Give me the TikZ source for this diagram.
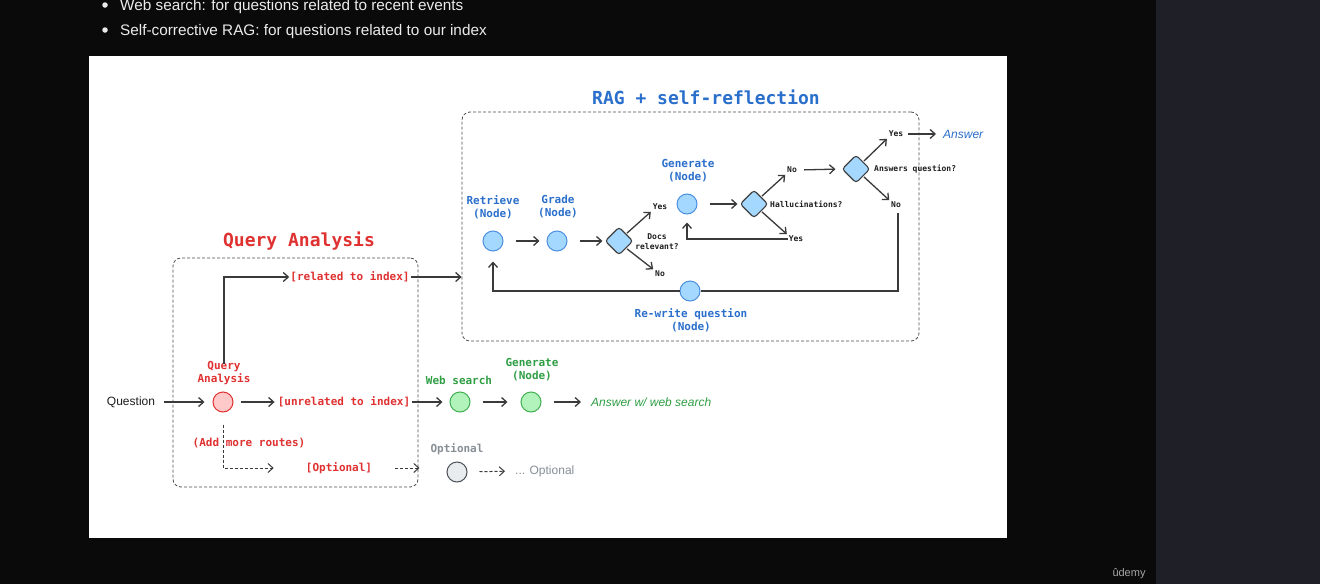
\documentclass[tikz,border=0pt]{standalone}
\usepackage{fontspec}
\setmainfont{Liberation Sans}
\setmonofont{DejaVu Sans Mono}
\usetikzlibrary{arrows.meta,shapes.geometric}
\definecolor{bgblack}{HTML}{0A0A0A}
\definecolor{sidegrey}{HTML}{1F1F28}
\definecolor{tred}{HTML}{E03131}
\definecolor{fred}{HTML}{FFC9C9}
\definecolor{tblue}{HTML}{2A6FCB}
\definecolor{sblue}{HTML}{4A8FE0}
\definecolor{fblue}{HTML}{A5D8FF}
\definecolor{tgreen}{HTML}{2F9E44}
\definecolor{sgreen}{HTML}{40B050}
\definecolor{fgreen}{HTML}{B2F2BB}
\definecolor{tgrey}{HTML}{868E96}
\definecolor{sgrey}{HTML}{495057}
\definecolor{fgrey}{HTML}{E9ECEF}
\definecolor{arrgrey}{HTML}{3A3A3A}
\definecolor{ink}{HTML}{1E1E1E}
\tikzset{
  monol/.style={font=\ttfamily\bfseries\fontsize{11}{13}\selectfont, align=center, inner sep=1pt},
  monos/.style={font=\ttfamily\bfseries\fontsize{8}{10}\selectfont, align=center, text=ink, inner sep=1pt},
  ttl/.style={font=\ttfamily\bfseries\fontsize{18}{20}\selectfont, inner sep=0pt},
  hand/.style={font=\fontsize{12}{14}\selectfont, inner sep=1pt},
  circ/.style={circle, minimum size=20pt, inner sep=0pt, line width=1pt},
  bnode/.style={circ, draw=sblue, fill=fblue},
  rnode/.style={circ, draw=tred, fill=fred},
  gnode/.style={circ, draw=sgreen, fill=fgreen},
  ynode/.style={circ, draw=sgrey, fill=fgrey},
  dia/.style={diamond, aspect=1, minimum width=28pt, minimum height=28pt, inner sep=0pt, draw=ink!85, fill=fblue, line width=1.1pt, rounded corners=3pt},
  arr/.style={draw=arrgrey, line width=1.3pt, -{Straight Barb[length=5pt,width=9pt]}},
  lin/.style={draw=arrgrey, line width=1.3pt},
  darr/.style={arr, line width=1pt, dash pattern=on 3pt off 2pt},
  dlin/.style={lin, dash pattern=on 3pt off 2pt},
  dbox/.style={draw=arrgrey!90, line width=0.8pt, dash pattern=on 3pt off 2pt, rounded corners=8pt, inner sep=0pt},
  bul/.style={circle, fill=white!92!black, minimum size=5.5pt, inner sep=0pt},
  topline/.style={text=white!92!black, font=\fontsize{15.3}{16}\selectfont, anchor=base west, inner sep=0pt},
}
\begin{document}
\begin{tikzpicture}[x=1pt, y=-1pt]
\useasboundingbox (0,0) rectangle (1320,584);
% background
\fill[bgblack] (0,0) rectangle (1320,584);
\fill[sidegrey] (1156,0) rectangle (1320,584);
\fill[white] (89,56) rectangle (1007,538);
% top bullets
\node[bul] (b1) at (105,5) {};
\node[topline] (t1) at (120,10) {Web search: for questions related to recent events};
\node[bul] (b2) at (105,30) {};
\node[topline] (t2) at (120,35) {Self-corrective RAG: for questions related to our index};
\node[text=white!65!black, font=\fontsize{11}{13}\selectfont, inner sep=0pt] (udemy) at (1129,574) {ûdemy};

% boxes and titles
\node[dbox, minimum width=245pt, minimum height=229pt] (qbox) at (295.5,372.5) {};
\node[dbox, minimum width=457pt, minimum height=229pt] (rag) at (690.5,226.5) {};
\node[ttl, text=tred] (qtitle) at (299,241) {Query Analysis};
\node[ttl, text=tblue] (rtitle) at (706,97) {RAG + self-reflection};

% query analysis part
\node[hand, text=ink] (q) at (131,402) {Question};
\node[rnode] (qa) at (223,402) {};
\node[monol, text=tred] (qal) at (224,373) {Query\\Analysis};
\node[monol, text=tred] (unrel) at (344,402) {[unrelated to index]};
\node[monol, text=tred] (rel) at (350,277) {[related to index]};
\node[monol, text=tred] (more) at (249,443) {(Add more routes)};
\node[monol, text=tred] (optt) at (339,468) {[Optional]};
\node[gnode] (ws) at (460,402) {};
\node[monol, text=tgreen] (wsl) at (459,380) {Web search};
\node[gnode] (gen2) at (531,402) {};
\node[monol, text=tgreen] (gen2l) at (532,370) {Generate\\(Node)};
\node[hand, text=tgreen, font=\itshape\fontsize{12}{14}\selectfont, anchor=west] (ans2) at (590,402) {Answer w/ web search};
\node[ynode] (optc) at (457,472) {};
\node[monol, text=tgrey] (optl) at (457,449) {Optional};
\node[hand, text=tgrey, anchor=west] (opt2) at (514,471) {... Optional};

\draw[arr, shorten <=8pt, shorten >=8pt] (q.east) -- (qa.west);
\draw[arr, shorten <=7pt, shorten >=2pt] (qa.east) -- (unrel.west);
\draw[arr] ([yshift=-4pt]qal.north) |- (rel.west);
\draw[arr] (rel.east) -- (rag.west |- rel.east);
\draw[arr, shorten <=1pt, shorten >=7pt] (unrel.east) -- (ws.west);
\draw[arr, shorten <=12pt, shorten >=13pt] (ws.east) -- (gen2.west);
\draw[arr, shorten <=12pt, shorten >=9pt] (gen2.east) -- (ans2.west);
\draw[darr, shorten <=12pt, shorten >=31pt] (qa.south) |- (optt.west);
\draw[darr, shorten <=22pt, shorten >=27pt] (optt.east) -- (optc.west |- optt.east);
\draw[darr, shorten <=12pt, shorten >=9pt] (optc.east) -- (opt2.west);

% RAG part
\node[bnode] (ret) at (493,241) {};
\node[monol, text=tblue] (retl) at (493,207) {Retrieve\\(Node)};
\node[bnode] (grade) at (557,241) {};
\node[monol, text=tblue] (gradel) at (558,207) {Grade\\(Node)};
\node[dia] (d1) at (619,241) {};
\node[monos] (yes1) at (660,207) {Yes};
\node[monos] (docs) at (657,242) {Docs\\relevant?};
\node[monos] (no1) at (660,274) {No};
\node[bnode] (gen) at (687,204) {};
\node[monol, text=tblue] (genl) at (688,171) {Generate\\(Node)};
\node[dia] (d2) at (754,204) {};
\node[monos] (no2) at (792,170) {No};
\node[monos, anchor=west] (hal) at (769,204) {Hallucinations?};
\node[monos] (yes2) at (796,239) {Yes};
\node[dia] (d3) at (856,169) {};
\node[monos] (yes3) at (896,134) {Yes};
\node[monos, anchor=west] (aq) at (873,169) {Answers question?};
\node[monos] (no3) at (896,205) {No};
\node[hand, text=tblue, font=\itshape\fontsize{12}{14}\selectfont, anchor=west] (ans) at (942,134) {Answer};
\node[bnode] (rw) at (690,291) {};
\node[monol, text=tblue] (rwl) at (691,320) {Re-write question\\(Node)};
\coordinate (no3b) at (898,213);

\draw[arr, shorten <=12pt, shorten >=7pt] (ret.east) -- (grade.west);
\draw[arr, shorten <=12pt, shorten >=2pt] (grade.east) -- (d1.west);
\draw[arr, shorten <=1pt, shorten >=1pt] (d1.north east) -- (yes1.south west);
\draw[arr, shorten <=1pt, shorten >=1pt] (d1.south east) -- (no1.north west);
\draw[arr, shorten <=12pt, shorten >=2pt] (gen.east) -- (d2.west);
\draw[arr, shorten <=1pt, shorten >=1pt] (d2.north east) -- (no2.south west);
\draw[arr, shorten <=1pt, shorten >=1pt] (d2.south east) -- (yes2.north west);
\draw[arr, shorten >=8pt] (yes2.west) -| (gen.south);
\draw[arr, shorten <=6pt, shorten >=6pt] (no2.east) -- (d3.west);
\draw[arr, shorten <=1pt, shorten >=1pt] (d3.north east) -- (yes3.south west);
\draw[arr, shorten <=1pt, shorten >=1pt] (d3.south east) -- (no3.north west);
\draw[arr, shorten <=4pt, shorten >=6pt] (yes3.east) -- (ans.west);
\draw[lin] (no3b) |- (rw.east);
\draw[arr, shorten >=10pt] (rw.west) -| (ret.south);
\end{tikzpicture}
\end{document}
